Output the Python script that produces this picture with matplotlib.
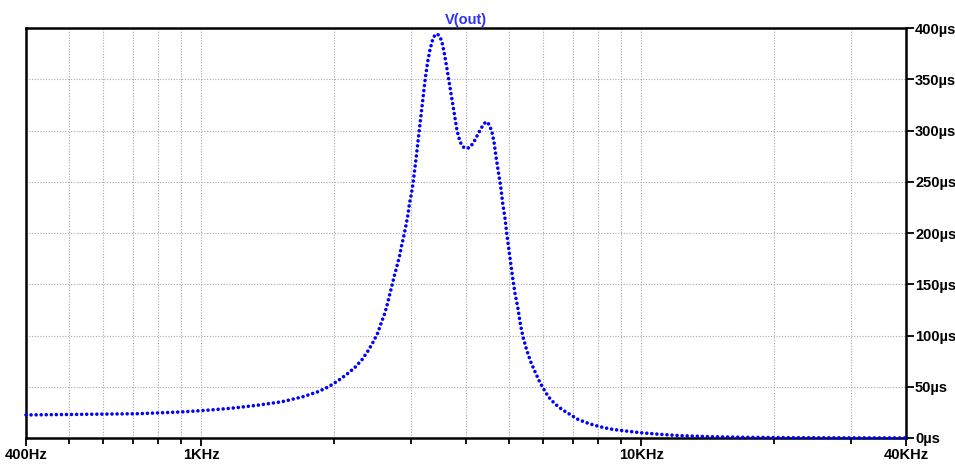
import numpy as np
import matplotlib
matplotlib.use("Agg")
import matplotlib.pyplot as plt
from matplotlib.ticker import FixedLocator, FuncFormatter, NullFormatter

# group delay of V(out), frequency in Hz, delay in microseconds
freq_hz = [400, 540, 720, 900, 1025, 1170, 1340, 1527, 1705, 1844, 1950, 2047,
           2143, 2234, 2321, 2395, 2458, 2520, 2568, 2618, 2655, 2692, 2711, 2748,
           2788, 2827, 2857, 2891, 2922, 2953, 2973, 3005, 3031, 3079, 3128, 3177,
           3228, 3270, 3313, 3357, 3401, 3446, 3491, 3528, 3565, 3612, 3660, 3708,
           3757, 3816, 3877, 3938, 4011, 4084, 4171, 4259, 4349, 4418, 4464, 4511,
           4576, 4631, 4680, 4737, 4797, 4847, 4906, 4950, 5002, 5055, 5108, 5170,
           5252, 5327, 5400, 5495, 5610, 5740, 5892, 5994, 6152, 6373, 6601, 6869,
           7199, 7651, 8064, 8500, 8957, 9944, 11040, 12260, 14340, 17040, 22150,
           29840, 40000]
delay_us = [22.5, 23.1, 23.7, 25.4, 27.0, 29.0, 31.9, 35.4, 40.3, 45.2, 50.0, 55.9,
            62.1, 68.6, 76.4, 84.9, 93.3, 102.4, 112.5, 122.2, 132.0, 142.4, 147.6, 158.0,
            168.0, 178.2, 188.0, 197.8, 207.5, 217.9, 228.0, 238.0, 248.0, 272.0, 298.0, 323.0,
            349.0, 366.0, 379.0, 388.0, 393.5, 394.0, 391.5, 386.0, 377.0, 363.0, 348.0, 333.0,
            318.0, 300.0, 289.0, 284.0, 282.5, 283.5, 289.0, 296.5, 303.5, 307.5, 308.5, 306.0,
            299.5, 289.0, 274.5, 259.8, 245.2, 229.0, 214.3, 199.7, 185.0, 170.4, 155.8, 141.0,
            126.0, 109.0, 97.2, 85.9, 74.5, 64.7, 54.0, 48.5, 40.3, 33.2, 28.0, 23.4,
            18.0, 13.7, 11.0, 8.8, 7.5, 5.2, 3.6, 2.3, 1.3, 0.7, 0.3,
            0.15, 0.08]

major_ticks = [400, 1000, 10000, 40000]
major_labels = ["400Hz", "1KHz", "10KHz", "40KHz"]
minor_ticks = [500, 600, 700, 800, 900, 2000, 3000, 4000, 5000, 6000, 7000, 8000,
               9000, 20000, 30000]
y_ticks = [0, 50, 100, 150, 200, 250, 300, 350, 400]

plt.rcParams["font.family"] = ["Liberation Sans", "DejaVu Sans"]
plt.rcParams["font.weight"] = "bold"

fig = plt.figure(figsize=(9.55, 4.66), dpi=100)
ax = fig.add_axes([26 / 955, 28 / 466, 880 / 955, 410 / 466])

# dotted trace: round dots roughly 5 px apart
ax.plot(freq_hz, delay_us, color="#0000ff", lw=2.6,
        linestyle=(0, (0.001, 1.4)), dash_capstyle="round",
        clip_on=False, zorder=5)

ax.set_xscale("log")
ax.set_xlim(400, 40000)
ax.set_ylim(0, 400)

ax.xaxis.set_major_locator(FixedLocator(major_ticks))
ax.xaxis.set_minor_locator(FixedLocator(minor_ticks))
ax.set_xticklabels(major_labels)
ax.xaxis.set_minor_formatter(NullFormatter())

ax.yaxis.set_major_locator(FixedLocator(y_ticks))
ax.yaxis.tick_right()
ax.yaxis.set_major_formatter(FuncFormatter(lambda v, p: f"{int(v)}µs"))

ax.tick_params(axis="x", which="major", direction="out", length=5.5, width=1.3,
               pad=2, labelsize=10.5, colors="black")
ax.tick_params(axis="x", which="minor", direction="out", length=4, width=1.3)
ax.tick_params(axis="y", which="major", direction="out", length=5.5, width=1.3,
               pad=1, labelsize=10.5, right=True, left=False)

for lab in ax.get_xticklabels() + ax.get_yticklabels():
    lab.set_fontweight("bold")

ax.grid(True, which="both", axis="x", color="#a8a8a8", lw=0.8,
        linestyle=(0, (1, 1.5)))
ax.grid(True, which="major", axis="y", color="#a8a8a8", lw=0.8,
        linestyle=(0, (1, 1.5)))

for sp in ax.spines.values():
    sp.set_linewidth(1.8)
    sp.set_color("black")

ax.set_title("V(out)", color="#3030ff", fontsize=10.5, fontweight="bold", pad=3)

fig.savefig("out.png", dpi=100)
